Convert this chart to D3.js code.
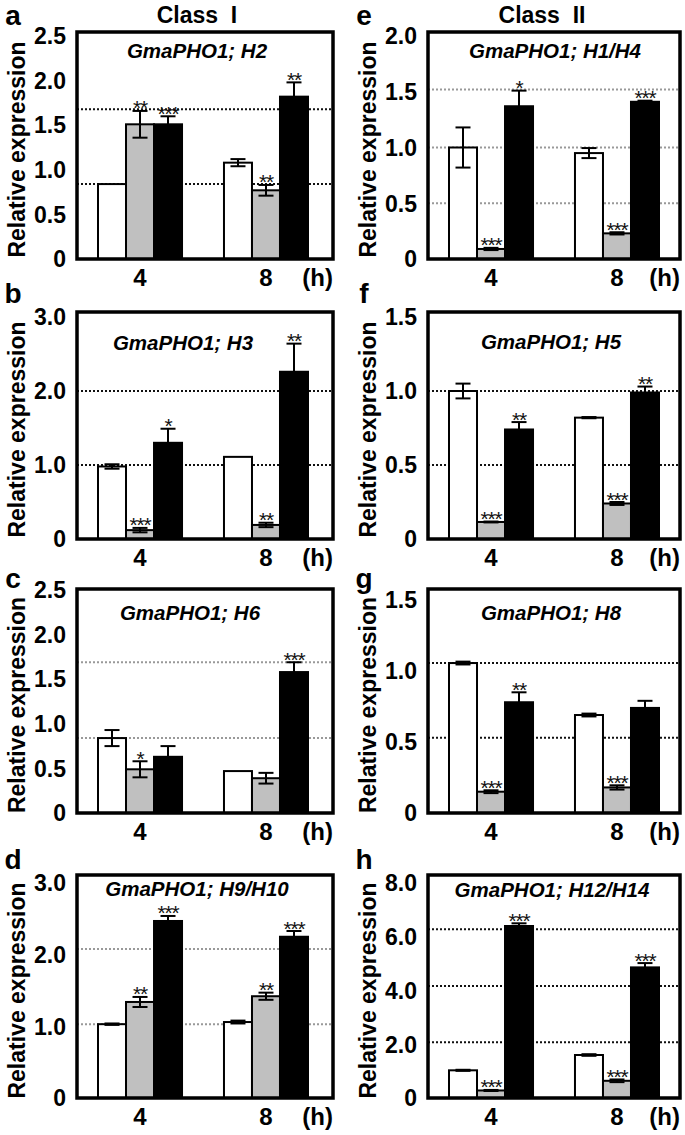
<!DOCTYPE html>
<html><head><meta charset="utf-8">
<script src="https://cdn.jsdelivr.net/npm/d3@7"></script>
<style>
html,body{margin:0;padding:0;background:#fff;}
svg text{font-family:"Liberation Sans",Arial,sans-serif;}
</style></head>
<body><svg id="chart" width="685" height="1135"></svg>
<script>
// ---------- data ----------
const panelIds = ["a","b","c","d","e","f","g","h"];
const geneNames = ["GmaPHO1; H2","GmaPHO1; H3","GmaPHO1; H6","GmaPHO1; H9/H10",
                   "GmaPHO1; H1/H4","GmaPHO1; H5","GmaPHO1; H8","GmaPHO1; H12/H14"];
const classTitles = ["Class  I","Class  II"];
const timePoints = ["4","8"];
const timeUnit = "(h)";
const seriesNames = ["s1","s2","s3"];
const yAxisTitle = "Relative expression";
const yMaxes = [2.5,3.0,2.5,3.0,2.0,1.5,1.5,8.0];
const yTickValues = [[0,0.5,1,1.5,2,2.5],[0,1,2,3],[0,0.5,1,1.5,2,2.5],[0,1,2,3],
                     [0,0.5,1,1.5,2],[0,0.5,1,1.5],[0,0.5,1,1.5],[0,2,4,6,8]];
const gridValues = [[0.84,1.68],[1,2],[0.84,1.69],[1.03,2.08],
                    [0.5,1.0,1.52],[0.5,1.0],[0.53,1.056],[2.07,4.17,6.28]];
const whiteMeans = [[0.84,1.08],[0.98,1.11],[0.84,0.47],[1.03,1.06],[1.0,0.95],[1.0,0.82],[1.056,0.69],[1.03,1.6]];
const whiteErrs  = [[0,0.04],[0.03,0],[0.09,0],[0.01,0.02],[0.18,0.045],[0.05,0.004],[0.01,0.01],[0.02,0.03]];
const grayMeans  = [[1.51,0.77],[0.12,0.19],[0.49,0.39],[1.34,1.42],[0.09,0.23],[0.115,0.24],[0.15,0.18],[0.28,0.64]];
const grayErrs   = [[0.15,0.06],[0.03,0.03],[0.09,0.06],[0.07,0.05],[0.01,0.01],[0.003,0.01],[0.01,0.015],[0.02,0.05]];
const blackMeans = [[1.51,1.82],[1.3,2.26],[0.63,1.58],[2.47,2.25],[1.37,1.41],[0.74,0.99],[0.78,0.74],[6.4,4.86]];
const blackErrs  = [[0.09,0.16],[0.19,0.38],[0.12,0.11],[0.07,0.08],[0.14,0.01],[0.05,0.04],[0.07,0.05],[0.1,0.16]];
const whiteStars = [["",""],["",""],["",""],["",""],["",""],["",""],["",""],["",""]];
const grayStars  = [["**","**"],["***","**"],["*",""],["**","**"],["***","***"],["***","***"],["***","***"],["***","***"]];
const blackStars = [["***","**"],["*","**"],["","***"],["***","***"],["*","***"],["**","**"],["**",""],["***","***"]];

// ---------- layout & style ----------
const rowTop = [32,312,589,875];
const rowAxis = [259,539,813,1098];
const colLeft = [77,428];
const colRight = [333,680];
const letterY = [15,293,578,859];
const titleDy = [19,31,24,14,19,30,24,15];
const titleCx = [197,183,190,197,555,551,551,552];
const topPad = [4,5,1,8,4,5,11,8];
const gridColor = ["#111","#111","#999","#999","#999","#111","#111","#111"];
const fills = {s1:"#ffffff", s2:"#c0c0c0", s3:"#000000"};
const barInset = 21, barSpan = 210;

const svg = d3.select("#chart");
svg.append("rect").attr("width",685).attr("height",1135).attr("fill","#fff");

// class titles
[0,1].forEach(c=>{
  svg.append("text").attr("x", c===0?197:542).attr("y",15).attr("dy","0.35em")
    .attr("text-anchor","middle").attr("font-size",23).attr("font-weight","bold")
    .style("white-space","pre").text(classTitles[c]);
});

panelIds.forEach((pid,i)=>{
  const col = i<4?0:1, row = i%4;
  const L = colLeft[col], R = colRight[col], T = rowTop[row], B = rowAxis[row];
  const g = svg.append("g");
  const y = d3.scaleLinear().domain([0,yMaxes[i]]).range([B, T+topPad[i]]);
  const x0 = d3.scaleBand().domain(timePoints).range([L+barInset, L+barInset+barSpan]).paddingInner(0.333);
  const x1 = d3.scaleBand().domain(seriesNames).range([0,x0.bandwidth()]);

  // grid lines
  g.selectAll(".grid").data(gridValues[i]).enter().append("line")
    .attr("x1",L).attr("x2",R).attr("y1",d=>y(d)).attr("y2",d=>y(d))
    .attr("stroke",gridColor[i]).attr("stroke-width",2).attr("stroke-dasharray","2,2");

  const recs = [];
  timePoints.forEach((t,ti)=>{
    recs.push({t, s:"s1", m:whiteMeans[i][ti], e:whiteErrs[i][ti], st:whiteStars[i][ti]});
    recs.push({t, s:"s2", m:grayMeans[i][ti], e:grayErrs[i][ti], st:grayStars[i][ti]});
    recs.push({t, s:"s3", m:blackMeans[i][ti], e:blackErrs[i][ti], st:blackStars[i][ti]});
  });
  const cx = d=>x0(d.t)+x1(d.s)+x1.bandwidth()/2;

  g.selectAll(".bar").data(recs).enter().append("rect")
    .attr("x",d=>x0(d.t)+x1(d.s)).attr("width",x1.bandwidth())
    .attr("y",d=>y(d.m)).attr("height",d=>B-y(d.m))
    .attr("fill",d=>fills[d.s]).attr("stroke","#000").attr("stroke-width",2);

  const eb = recs.filter(d=>d.e>0);
  g.selectAll(".ev").data(eb).enter().append("line")
    .attr("x1",cx).attr("x2",cx).attr("y1",d=>y(d.m+d.e)).attr("y2",d=>y(d.m-d.e))
    .attr("stroke","#000").attr("stroke-width",2);
  ["p","m"].forEach(k=>{
    g.selectAll(".ec"+k).data(eb).enter().append("line")
      .attr("x1",d=>cx(d)-7.5).attr("x2",d=>cx(d)+7.5)
      .attr("y1",d=>y(k==="p"?d.m+d.e:d.m-d.e)).attr("y2",d=>y(k==="p"?d.m+d.e:d.m-d.e))
      .attr("stroke","#000").attr("stroke-width",2);
  });

  g.selectAll(".star").data(recs.filter(d=>d.st)).enter().append("text")
    .attr("x",cx).attr("y",d=>y(d.m+d.e)+4.5)
    .attr("text-anchor","middle").attr("font-size",21).attr("fill","#111")
    .attr("letter-spacing","-1.2").text(d=>d.st);

  // frame
  g.append("rect").attr("x",L).attr("y",T).attr("width",R-L).attr("height",B-T)
    .attr("fill","none").attr("stroke","#000").attr("stroke-width",3.5);

  // y ticks
  g.selectAll(".yt").data(yTickValues[i]).enter().append("text")
    .attr("x",L-11).attr("y",d=>y(d)).attr("dy","0.36em")
    .attr("text-anchor","end").attr("font-size",23).attr("font-weight","bold")
    .text(d=>d===0?"0":d3.format(".1f")(d));

  // x labels
  g.selectAll(".xt").data(timePoints).enter().append("text")
    .attr("x",d=>x0(d)+x0.bandwidth()/2).attr("y",B+27)
    .attr("text-anchor","middle").attr("font-size",24).attr("font-weight","bold").text(d=>d);
  g.append("text").attr("x",R).attr("y",B+27).attr("text-anchor","end")
    .attr("font-size",24).attr("font-weight","bold").text(timeUnit);

  // y title
  g.append("text").attr("transform",`translate(${L-60},${(T+B)/2+4}) rotate(-90)`)
    .attr("dy","0.35em").attr("text-anchor","middle").attr("font-size",23).attr("font-weight","bold")
    .text(yAxisTitle);

  // gene title
  g.append("text").attr("x",titleCx[i]).attr("y",T+titleDy[i]).attr("dy","0.35em")
    .attr("text-anchor","middle").attr("font-size",20.5).attr("font-weight","bold")
    .attr("font-style","italic").text(geneNames[i]);

  // panel letter
  g.append("text").attr("x",L-64).attr("y",letterY[row]).attr("dy","0.35em")
    .attr("text-anchor","middle").attr("font-size",28).attr("font-weight","bold").text(pid);
});
</script></body></html>
